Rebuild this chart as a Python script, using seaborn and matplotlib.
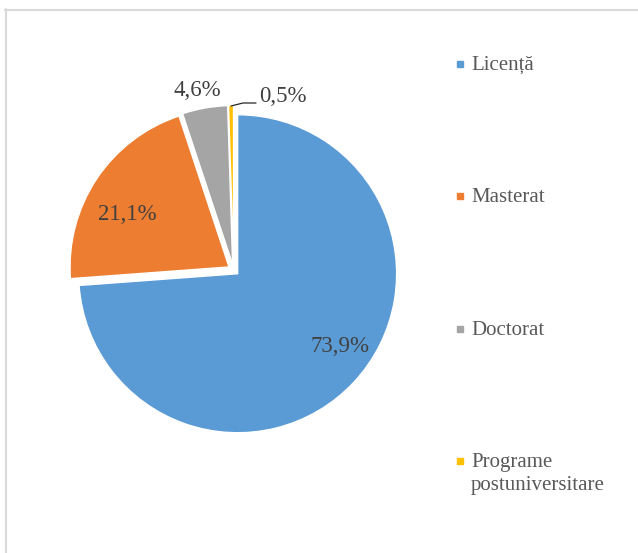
import matplotlib
matplotlib.use("Agg")
import matplotlib.pyplot as plt
import seaborn as sns
from matplotlib.lines import Line2D

# ---- data ----
categories = ["Licență", "Masterat", "Doctorat", "Programe\npostuniversitare"]
values = [73.9, 21.1, 4.6, 0.5]
colors = ["#5B9BD5", "#ED7D31", "#A5A5A5", "#FFC000"]
label_texts = [f"{v:.1f}%".replace(".", ",") for v in values]

sns.set_theme(style="white")
plt.rcParams["font.family"] = "serif"
plt.rcParams["font.serif"] = ["Liberation Serif", "DejaVu Serif"]
SERIF = ["Liberation Serif", "DejaVu Serif"]

W, H = 638, 553
fig = plt.figure(figsize=(W / 100, H / 100), dpi=100)
fig.patch.set_facecolor("white")
ax = fig.add_axes([0, 0, 1, 1])

cx, cy, R = 233.6, H - 270, 159
wedges, _ = ax.pie(
    values, colors=colors, startangle=90, counterclock=False,
    explode=[5.5] * len(values), center=(cx, cy), radius=R,
    wedgeprops=dict(edgecolor="white", linewidth=1.0), normalize=True,
)
ax.set_xlim(0, W)
ax.set_ylim(0, H)
ax.set_aspect("auto")
ax.axis("off")

# data labels
label_pos = [(340, 347), (127, 215), (197, 90), (283, 97)]
for (px, py), txt in zip(label_pos, label_texts):
    ax.text(px, H - py, txt, ha="center", va="center", fontsize=16.5,
            color="#404040", family=SERIF)

# leader line for the smallest slice
ax.plot([231, 243, 256], [H - 106, H - 103, H - 103], color="#262626", lw=0.9)

# legend
handles = [Line2D([], [], marker="s", linestyle="none", markersize=5,
                  markerfacecolor=c, markeredgecolor=c) for c in colors]
leg = fig.legend(handles, categories, loc="upper left",
                 bbox_to_anchor=(456.3 / W, 1 - 55.5 / H), frameon=False,
                 prop=dict(family=SERIF, size=15), labelcolor="#595959",
                 handlelength=0.4, handleheight=1.0,
                 handletextpad=0.31, borderpad=0, borderaxespad=0,
                 labelspacing=5.45)
for t in leg.get_texts():
    t.set_linespacing(1.3)
for col in leg._legend_handle_box.get_children():
    for row in col.get_children():
        row.align = "top"

# chart border (top and left visible)
fig.add_artist(Line2D([5 / W, 1], [1 - 9.5 / H] * 2, transform=fig.transFigure,
                      color="#D9D9D9", lw=1.5))
fig.add_artist(Line2D([5.5 / W] * 2, [0, 1 - 9 / H], transform=fig.transFigure,
                      color="#D9D9D9", lw=1.5))

fig.savefig("out.png", dpi=100, facecolor="white")
